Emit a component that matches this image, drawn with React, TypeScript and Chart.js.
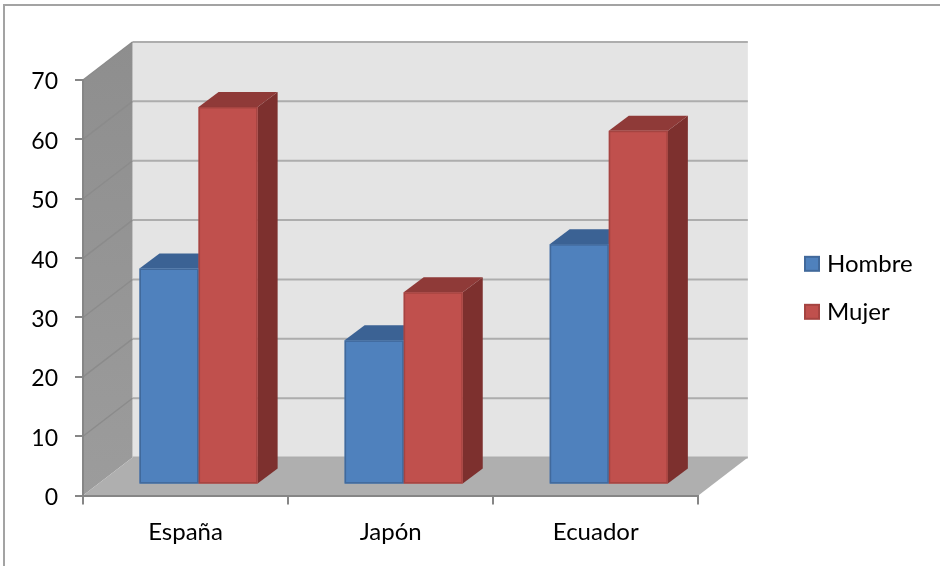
import React, { useEffect, useRef } from "react";
import { Chart, registerables } from "chart.js";

Chart.register(...registerables);

// Survey values by country
const countries = ["España", "Japón", "Ecuador"];
const hombre = [36.4, 24.3, 40.5];
const mujer = [63.6, 32.4, 59.6];

const FONT = "Lato, Carlito, Calibri, sans-serif";

// Projection of the box: how far the back wall and the bars sit behind the front plane.
const WALL_DX = 49.5;
const WALL_DY = -38;
const BAR_DX = 13;
const BAR_DY = -11;
const BAR_DEPTH_X = 20;
const BAR_DEPTH_Y = -15;

const poly = (ctx: CanvasRenderingContext2D, pts: number[][], fill: string | CanvasGradient) => {
  ctx.beginPath();
  pts.forEach(([x, y], i) => (i ? ctx.lineTo(x, y) : ctx.moveTo(x, y)));
  ctx.closePath();
  ctx.fillStyle = fill;
  ctx.fill();
};

// Square legend key with a darker outline, wider than the slot the legend reserves for it.
const makeSwatch = (fill: string, stroke: string) => {
  const c = document.createElement("canvas");
  c.width = 18;
  c.height = 18;
  const g = c.getContext("2d")!;
  g.fillStyle = fill;
  g.fillRect(1, 1, 16, 16);
  g.strokeStyle = stroke;
  g.lineWidth = 2;
  g.strokeRect(2, 2, 14, 14);
  return c;
};

// Frame, side wall, back wall, floor and the gridlines running across the walls.
const wallsPlugin = {
  id: "walls",
  beforeDraw(chart: any) {
    const { ctx, chartArea: a, scales } = chart;
    const { left: l, right: r, top: t, bottom: b } = a;
    const dx = WALL_DX;
    const dy = WALL_DY;
    ctx.save();
    ctx.fillStyle = "#ffffff";
    ctx.fillRect(0, 0, chart.width, chart.height);
    ctx.strokeStyle = "#a3a3a3";
    ctx.lineWidth = 2;
    ctx.beginPath();
    ctx.moveTo(4, chart.height);
    ctx.lineTo(4, 5);
    ctx.lineTo(chart.width, 5);
    ctx.stroke();

    poly(ctx, [[l + dx, t + dy], [r + dx, t + dy], [r + dx, b + dy], [l + dx, b + dy]], "#e4e4e4");
    const side = ctx.createLinearGradient(0, t + dy, 0, b);
    side.addColorStop(0, "#8e8e8e");
    side.addColorStop(1, "#9c9c9c");
    poly(ctx, [[l, t], [l + dx, t + dy], [l + dx, b + dy], [l, b]], side);
    poly(ctx, [[l, b], [l + dx, b + dy], [r + dx, b + dy], [r, b]], "#afafaf");

    scales.y.ticks.forEach((tick: any) => {
      const y = scales.y.getPixelForValue(tick.value);
      ctx.strokeStyle = "#adadad";
      ctx.lineWidth = 2;
      ctx.beginPath();
      ctx.moveTo(l + dx, y + dy);
      ctx.lineTo(r + dx, y + dy);
      ctx.stroke();
      if (tick.value > 0) {
        ctx.strokeStyle = "#8b8b8b";
        ctx.lineWidth = 1.5;
        ctx.beginPath();
        ctx.moveTo(l, y);
        ctx.lineTo(l + dx, y + dy);
        ctx.stroke();
      }
    });
    ctx.restore();
  },
  // The bars stand inside the box, so their faces are shifted back from the front plane.
  beforeDatasetsDraw(chart: any) {
    const { ctx } = chart;
    ctx.save();
    ctx.translate(BAR_DX, BAR_DY);
    chart.data.datasets.forEach((ds: any, i: number) => {
      chart.getDatasetMeta(i).data.forEach((bar: any) => {
        const x0 = bar.x - bar.width / 2;
        const x1 = bar.x + bar.width / 2;
        const top = bar.y;
        const base = bar.base;
        const ex = BAR_DEPTH_X;
        const ey = BAR_DEPTH_Y;
        poly(ctx, [[x1, top], [x1 + ex, top + ey], [x1 + ex, base + ey], [x1, base]], ds.sideColor);
        poly(ctx, [[x0, top], [x0 + ex, top + ey], [x1 + ex, top + ey], [x1, top]], ds.topColor);
      });
    });
  },
  // Outline each front face after all of them are filled, then leave the shifted plane.
  afterDatasetsDraw(chart: any) {
    const { ctx } = chart;
    chart.data.datasets.forEach((ds: any, i: number) => {
      ctx.strokeStyle = ds.edgeColor;
      ctx.lineWidth = 1.5;
      chart.getDatasetMeta(i).data.forEach((bar: any) => {
        const x0 = bar.x - bar.width / 2;
        ctx.strokeRect(x0 + 0.75, bar.y + 0.75, bar.width - 1.5, bar.base - bar.y - 1.5);
      });
    });
    ctx.restore();
  },
};

// The legend sits well to the right of the box, centred on the box's height.
const legendShift = {
  id: "legendShift",
  afterLayout(chart: any) {
    const legend = chart.legend;
    const w = legend.right - legend.left;
    legend.left = 785;
    legend.right = 785 + w;
    legend.top = chart.chartArea.top;
    legend.bottom = chart.chartArea.bottom;
  },
};

export default function App() {
  const ref = useRef<HTMLCanvasElement>(null);
  useEffect(() => {
    const swatches = [makeSwatch("#4f81bd", "#41699b"), makeSwatch("#c0504d", "#a54441")];
    const chart = new Chart(ref.current!, {
      type: "bar",
      plugins: [wallsPlugin, legendShift],
      data: {
        labels: countries,
        datasets: [
          {
            label: "Hombre",
            data: hombre,
            backgroundColor: "#4f81bd",
            borderWidth: 0,
            edgeColor: "#41699b",
            topColor: "#3b6294",
            sideColor: "#34567f",
          },
          {
            label: "Mujer",
            data: mujer,
            backgroundColor: "#c0504d",
            borderWidth: 0,
            edgeColor: "#a54441",
            topColor: "#8f3a38",
            sideColor: "#7d302e",
          },
        ] as any,
      },
      options: {
        animation: false,
        responsive: false,
        layout: { padding: { left: 4, right: 104, top: 80, bottom: 8 } },
        datasets: { bar: { barPercentage: 1, categoryPercentage: 0.576 } },
        plugins: {
          tooltip: { enabled: false },
          title: { display: false },
          legend: {
            position: "right",
            labels: {
              usePointStyle: true,
              boxWidth: 6,
              boxHeight: 16,
              padding: 24,
              color: "#000000",
              font: { family: FONT, size: 24 },
              generateLabels: (c: any) =>
                Chart.defaults.plugins.legend.labels
                  .generateLabels(c)
                  .map((item: any, i: number) => ({ ...item, pointStyle: swatches[i] })),
            },
          },
        },
        scales: {
          x: {
            afterFit: (s: any) => {
              s.height = 62.4;
            },
            grid: { drawOnChartArea: false, color: "#868686", lineWidth: 2, tickLength: 9 },
            border: { color: "#868686", width: 2 },
            ticks: { color: "#000000", padding: 13, font: { family: FONT, size: 24 } },
          },
          y: {
            min: 0,
            max: 70,
            afterFit: (s: any) => {
              s.width = 79;
            },
            grid: { drawOnChartArea: false, color: "#868686", lineWidth: 2, tickLength: 8 },
            border: { color: "#868686", width: 2 },
            ticks: { stepSize: 10, color: "#000000", padding: 17, labelOffset: 2, font: { family: FONT, size: 23 } },
          },
        },
      } as any,
    });
    return () => chart.destroy();
  }, []);
  return (
    <div style={{ position: "absolute", left: 0, top: 0, width: 940, height: 566 }}>
      <canvas ref={ref} width={940} height={566} style={{ display: "block" }} />
    </div>
  );
}
